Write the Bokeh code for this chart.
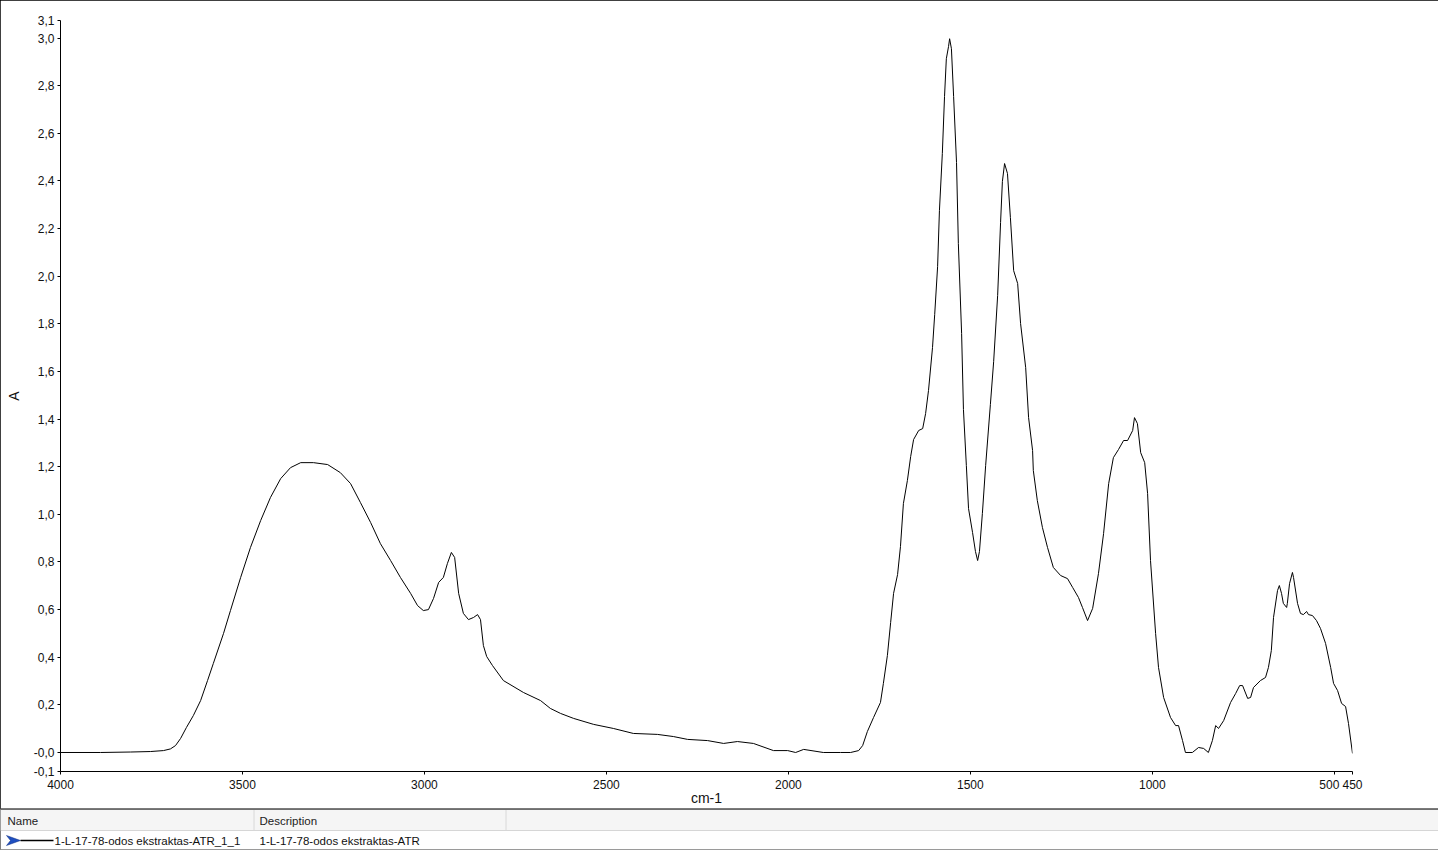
from bokeh.plotting import figure
from bokeh.models import Range1d, FixedTicker, ColumnDataSource
from bokeh.layouts import column, row
from bokeh.core.properties import value
from bokeh.embed import file_html
from bokeh.resources import INLINE

# ---- data ----
wavenumber = [4000, 3890, 3808, 3753, 3717, 3698, 3684, 3670, 3654, 3635, 3615, 3596, 3580, 3552, 3533,
              3505, 3478, 3450, 3423, 3395, 3368, 3340, 3305, 3266, 3231, 3203, 3176, 3148, 3121, 3093,
              3066, 3038, 3019, 3003, 2989, 2975, 2961, 2948, 2937, 2926, 2917, 2906, 2893, 2879, 2865,
              2854, 2846, 2838, 2829, 2813, 2783, 2728, 2681, 2654, 2626, 2590, 2535, 2481, 2426, 2360,
              2316, 2277, 2222, 2178, 2140, 2096, 2041, 2002, 1980, 1958, 1904, 1857, 1829, 1807, 1796,
              1783, 1766, 1747, 1739, 1728, 1719, 1711, 1700, 1692, 1684, 1673, 1664, 1656, 1642, 1631,
              1623, 1615, 1604, 1598, 1590, 1585, 1577, 1571, 1566, 1560, 1557, 1552, 1546, 1538, 1533,
              1524, 1519, 1511, 1505, 1494, 1486, 1480, 1475, 1467, 1458, 1445, 1436, 1425, 1417, 1412,
              1406, 1398, 1390, 1381, 1370, 1362, 1348, 1340, 1329, 1327, 1316, 1302, 1288, 1272, 1252,
              1233, 1219, 1203, 1192, 1178, 1164, 1148, 1134, 1120, 1107, 1093, 1079, 1068, 1054, 1049,
              1041, 1032, 1021, 1013, 1005, 991, 983, 969, 950, 936, 928, 917, 909, 890, 873,
              859, 846, 835, 826, 818, 804, 785, 771, 760, 752, 738, 730, 722, 703, 689,
              681, 673, 667, 656, 651, 645, 640, 631, 629, 623, 615, 612, 601, 593, 585,
              576, 571, 560, 549, 538, 524, 510, 502, 491, 480, 469, 461, 450]
absorbance = [0.000, 0.000, 0.002, 0.004, 0.008, 0.015, 0.029, 0.059, 0.105, 0.155, 0.218, 0.302, 0.374, 0.500, 0.596,
              0.735, 0.861, 0.974, 1.071, 1.150, 1.196, 1.217, 1.217, 1.209, 1.175, 1.129, 1.050, 0.966, 0.877, 0.806,
              0.735, 0.668, 0.617, 0.596, 0.600, 0.647, 0.714, 0.735, 0.793, 0.840, 0.819, 0.668, 0.584, 0.558, 0.567,
              0.579, 0.558, 0.449, 0.403, 0.365, 0.302, 0.252, 0.218, 0.185, 0.164, 0.143, 0.118, 0.101, 0.080, 0.076,
              0.067, 0.055, 0.050, 0.038, 0.046, 0.038, 0.008, 0.008, 0.000, 0.013, 0.000, 0.000, 0.000, 0.008, 0.029,
              0.088, 0.147, 0.210, 0.290, 0.407, 0.546, 0.668, 0.747, 0.865, 1.045, 1.142, 1.243, 1.314, 1.352, 1.360,
              1.423, 1.520, 1.700, 1.839, 2.040, 2.275, 2.515, 2.754, 2.913, 2.964, 2.997, 2.955, 2.754, 2.477, 2.137,
              1.759, 1.440, 1.205, 1.024, 0.924, 0.844, 0.806, 0.844, 1.003, 1.205, 1.461, 1.641, 1.919, 2.225, 2.397,
              2.473, 2.431, 2.246, 2.023, 1.969, 1.801, 1.616, 1.406, 1.268, 1.184, 1.058, 0.945, 0.861, 0.777, 0.743,
              0.730, 0.693, 0.651, 0.609, 0.554, 0.605, 0.751, 0.919, 1.129, 1.238, 1.272, 1.310, 1.310, 1.352, 1.406,
              1.381, 1.259, 1.217, 1.087, 0.806, 0.500, 0.357, 0.231, 0.147, 0.113, 0.113, 0.050, 0.000, 0.000, 0.021,
              0.017, 0.000, 0.050, 0.113, 0.101, 0.134, 0.210, 0.248, 0.281, 0.281, 0.227, 0.231, 0.273, 0.302, 0.315,
              0.357, 0.428, 0.567, 0.680, 0.701, 0.668, 0.626, 0.609, 0.626, 0.709, 0.756, 0.735, 0.626, 0.584, 0.579,
              0.592, 0.579, 0.575, 0.554, 0.521, 0.458, 0.357, 0.290, 0.260, 0.206, 0.193, 0.122, -0.004]

x_ticks = [4000, 3500, 3000, 2500, 2000, 1500, 1000, 500, 450]
x_labels = ["4000", "3500", "3000", "2500", "2000", "1500", "1000", "500\u00a0\u00a0\u00a0", "450"]
y_ticks = [-0.0798, 0.0, 0.2, 0.4, 0.6, 0.8, 1.0, 1.2, 1.4, 1.6, 1.8, 2.0, 2.2, 2.4, 2.6, 2.8, 3.0, 3.0735]
y_labels = ["-0,1", "-0,0", "0,2", "0,4", "0,6", "0,8", "1,0", "1,2", "1,4", "1,6", "1,8", "2,0",
            "2,2", "2,4", "2,6", "2,8", "3,0", "3,1"]

series_name = "1-L-17-78-odos ekstraktas-ATR_1_1"
series_desc = "1-L-17-78-odos ekstraktas-ATR"
col_headers = ["Name", "Description"]

FONT = "Liberation Sans"
W = 1438

# ---- main chart ----
p = figure(output_backend="svg", toolbar_location=None,
           frame_width=1292, frame_height=751,
           min_border_left=60, min_border_right=86, min_border_top=20, min_border_bottom=35,
           x_range=Range1d(4000, 450), y_range=Range1d(-0.0798, 3.0735),
           background_fill_color="white", border_fill_color="white")
p.outline_line_color = None
p.grid.visible = False
p.styles = {"outline": "1px solid black", "outline-offset": "-1px"}

src = ColumnDataSource(dict(x=wavenumber, y=absorbance))
p.line("x", "y", source=src, line_color="black", line_width=1)

for ax in (p.xaxis[0], p.yaxis[0]):
    ax.axis_line_color = "black"
    ax.major_tick_line_color = "black"
    ax.major_tick_out = 3
    ax.major_tick_in = 0
    ax.minor_tick_line_color = None
    ax.major_label_text_font = FONT
    ax.major_label_text_font_size = "12px"
    ax.major_label_text_color = "#111111"
    ax.axis_label_text_font = FONT
    ax.axis_label_text_font_size = "14px"
    ax.axis_label_text_font_style = "normal"
    ax.axis_label_text_color = "#111111"

p.xaxis.ticker = FixedTicker(ticks=x_ticks)
p.xaxis.major_label_overrides = {t: l for t, l in zip(x_ticks, x_labels)}
p.xaxis.major_label_standoff = 3
p.xaxis.axis_label = "cm-1"
p.xaxis.axis_label_standoff = -5
p.yaxis.ticker = FixedTicker(ticks=y_ticks)
p.yaxis.major_label_overrides = {t: l for t, l in zip(y_ticks, y_labels)}
p.yaxis.major_label_standoff = 3
p.yaxis.axis_label = "A"
p.yaxis.axis_label_standoff = 9

# ---- legend table below ----
H = 42
t = figure(output_backend="svg", toolbar_location=None,
           frame_width=W, frame_height=H,
           x_range=Range1d(0, W), y_range=Range1d(H, 0),
           min_border_left=0, min_border_right=0, min_border_top=0, min_border_bottom=0,
           x_axis_location=None, y_axis_location=None,
           background_fill_color="white", border_fill_color="white")
t.outline_line_color = None
t.grid.visible = False
t.styles = {"outline": "1px solid black", "outline-offset": "-1px"}

t.quad(left=[0], right=[W], top=[1.5], bottom=[21.5], fill_color="#f5f5f5", line_color=None)
t.segment(x0=[0], y0=[0.75], x1=[W], y1=[0.75], line_color="#6e6e6e", line_width=1.5)
t.segment(x0=[0], y0=[22], x1=[W], y1=[22], line_color="#d6d6d6", line_width=1)
t.segment(x0=[0], y0=[41], x1=[W], y1=[41], line_color="#9a9a9a", line_width=1)
t.segment(x0=[253.5, 505.5], y0=[1.5, 1.5], x1=[253.5, 505.5], y1=[21.5, 21.5], line_color="#d8d8d8", line_width=1)

t.text(x=[7, 259], y=[12, 12], text=col_headers, text_font=value(FONT), text_font_size="11.5px",
       text_baseline="middle", text_color="#222222")
t.text(x=[54, 259], y=[32, 32], text=[series_name, series_desc], text_font=value(FONT),
       text_font_size="11.5px", text_baseline="middle", text_color="#111111")

t.patch(x=[6, 20, 6, 10], y=[27, 32, 37, 32], fill_color="#1f4fc0", line_color="#0a2a80", line_width=0.5)
t.segment(x0=[20], y0=[32], x1=[53], y1=[32], line_color="black", line_width=1.5)

layout = column(p, row(t), spacing=0)
open("out.html", "w").write(file_html(layout, INLINE))
